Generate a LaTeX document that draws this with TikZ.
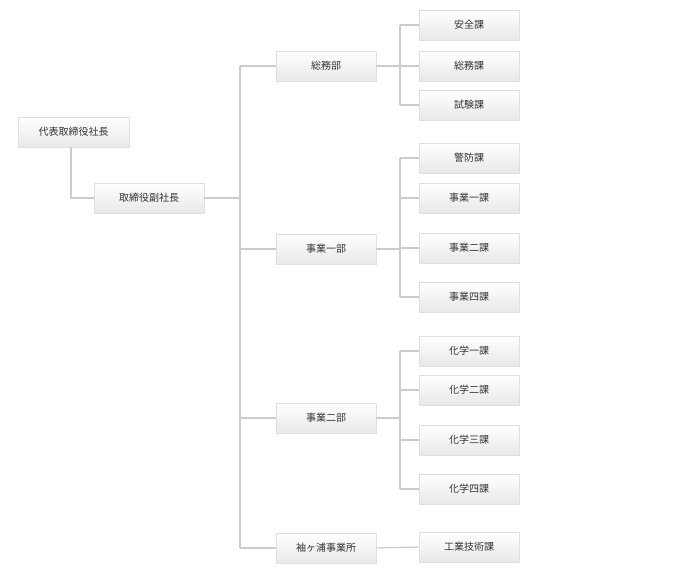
\documentclass[tikz,border=0pt]{standalone}
\usepackage{fontspec}
\setmainfont{Noto Sans CJK JP}
\begin{document}
\begin{tikzpicture}[x=1pt,y=-1pt,
 box/.style={draw=black!12,line width=0.8pt,top color=white,bottom color=black!9,minimum height=30pt,text=black!80,font=\fontsize{10}{12}\selectfont,inner sep=0pt},
 dept/.style={box,minimum width=100pt},
 sect/.style={box,minimum width=100pt},
 ln/.style={draw=black!20,line width=1.3pt}]
\useasboundingbox (0,0) rectangle (690,580);
\node[box,minimum width=111pt] (ceo) at (73.5,132) {代表取締役社長};
\node[box,minimum width=110pt] (vp) at (149,198) {取締役副社長};
\node[dept] (d1) at (326,66) {総務部};
\node[dept] (d2) at (326,249) {事業一部};
\node[dept] (d3) at (326,418) {事業二部};
\node[dept] (d4) at (326,548) {袖ヶ浦事業所};
\foreach \n/\y/\t in {s1/25/安全課,s2/66/総務課,s3/105/試験課,s4/158/警防課,s5/198/事業一課,s6/248/事業二課,s7/297/事業四課,s8/351/化学一課,s9/390/化学二課,s10/440/化学三課,s11/489/化学四課,s12/547/工業技術課}
  \node[sect] (\n) at (469,\y) {\t};
\coordinate (tr) at (240,66);
\coordinate (bt) at (240,548);
\path[ln] (ceo.south -| 71,0) |- (vp.west);
\path[ln] (vp.east) -- (vp.east -| tr);
\path[ln] (tr) -- (bt);
\foreach \d in {d1,d2,d3,d4} \path[ln] (\d.west -| tr) -- (\d.west);
\foreach \d/\a/\b in {d1/s1/s3,d2/s4/s7,d3/s8/s11}{
  \path[ln] (\d.east) -- (\d.east -| 400,0);
  \path[ln] (\a.west -| 400,0) -- (\b.west -| 400,0);
}
\foreach \s in {s1,s2,s3,s4,s5,s6,s7,s8,s9,s10,s11} \path[ln] (\s.west -| 400,0) -- (\s.west);
\path[ln] (d4.east) -- (s12.west);
\end{tikzpicture}
\end{document}
